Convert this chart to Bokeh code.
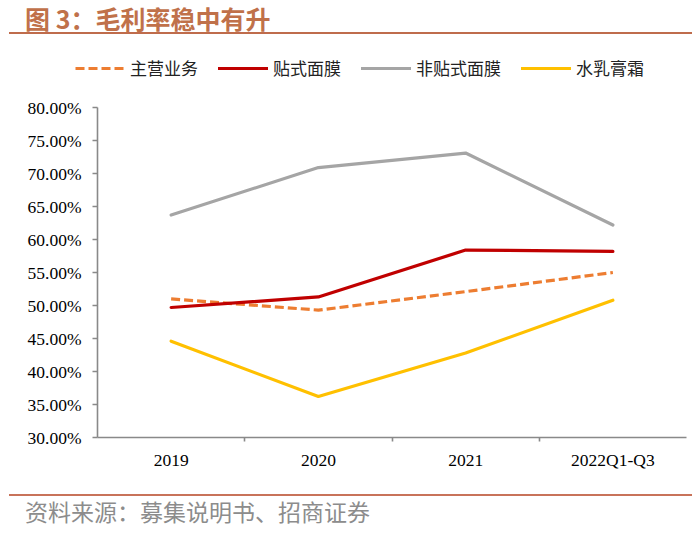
from bokeh.plotting import figure
from bokeh.models import (Range1d, FixedTicker, PrintfTickFormatter, Legend,
                          LegendItem, ColumnDataSource, Div)
from bokeh.layouts import column
from bokeh.embed import file_html
from bokeh.resources import INLINE

categories = ["2019", "2020", "2021", "2022Q1-Q3"]
main_business = [51.0, 49.3, 52.1, 55.0]
sheet_mask = [49.7, 51.3, 58.4, 58.2]
non_sheet_mask = [63.7, 70.9, 73.1, 62.2]
lotion_cream = [44.6, 36.2, 42.8, 50.8]
series_names = ["主营业务", "贴式面膜", "非贴式面膜", "水乳膏霜"]
y_ticks = [30, 35, 40, 45, 50, 55, 60, 65, 70, 75, 80]
title_text = "图 3：毛利率稳中有升"
source_text = "资料来源：募集说明书、招商证券"

W = 692
title_div = Div(width=W, height=36, margin=(0, 0, 0, 0), text=(
    '<div style="position:relative;width:683px;height:34px;margin-left:9px;'
    'border-bottom:2px solid #BF6C4C;">'
    '<span style="position:absolute;left:16px;top:3px;font-family:\'Noto Sans CJK SC\';'
    'font-size:25px;line-height:30px;color:#C0714A;font-weight:bold;white-space:nowrap">'
    + title_text + '</span></div>'))

# plot geometry (pixels): axes box from x=97 to 686, 80% at 71px below figure top, 30% at 401px
FIG_H = 456
AX_LEFT, AX_RIGHT = 97, 686
AX_TOP, AX_BOTTOM = 71, 401
n = len(categories)
px_per_cat = (AX_RIGHT - AX_LEFT) / n
px_per_pct = (AX_BOTTOM - AX_TOP) / (y_ticks[-1] - y_ticks[0])

x_range = Range1d(-AX_LEFT / px_per_cat, n + (W - AX_RIGHT) / px_per_cat)
y_range = Range1d(y_ticks[0] - (FIG_H - AX_BOTTOM) / px_per_pct,
                  y_ticks[0] + AX_BOTTOM / px_per_pct)

p = figure(width=W, height=FIG_H, output_backend="svg", toolbar_location=None,
           x_range=x_range, y_range=y_range,
           min_border_left=0, min_border_right=0, min_border_top=0,
           min_border_bottom=0, margin=(0, 0, 0, 0))
p.outline_line_color = None
p.grid.visible = False
p.background_fill_color = "white"
p.border_fill_color = "white"

xs = [i + 0.5 for i in range(n)]
src = ColumnDataSource(dict(x=xs, a=main_business, b=sheet_mask, c=non_sheet_mask, d=lotion_cream))

r_a = p.line("x", "a", source=src, line_color="#ED7D31", line_width=3.2, line_dash="9 4")
r_b = p.line("x", "b", source=src, line_color="#C00000", line_width=3.2, line_cap="round")
r_c = p.line("x", "c", source=src, line_color="#A5A5A5", line_width=3.2, line_cap="round")
r_d = p.line("x", "d", source=src, line_color="#FFC000", line_width=3.2, line_cap="round")

axis_color = "#898989"
xa = p.xaxis[0]
xa.fixed_location = y_ticks[0]
xa.bounds = (0, n)
xa.ticker = FixedTicker(ticks=xs, minor_ticks=list(range(1, n)))
xa.major_label_overrides = {x: c for x, c in zip(xs, categories)}
xa.axis_line_color = axis_color
xa.axis_line_width = 1.6
xa.major_tick_line_color = None
xa.major_tick_out = 0
xa.major_tick_in = 0
xa.minor_tick_line_color = axis_color
xa.minor_tick_line_width = 1.6
xa.minor_tick_out = 4
xa.minor_tick_in = 0
xa.major_label_standoff = 8
xa.major_label_text_font = "Liberation Serif"
xa.major_label_text_font_size = "17.5px"
xa.major_label_text_color = "black"

ya = p.yaxis[0]
ya.fixed_location = 0
ya.bounds = (y_ticks[0], y_ticks[-1])
ya.ticker = FixedTicker(ticks=y_ticks)
ya.formatter = PrintfTickFormatter(format="%.2f%%")
ya.axis_line_color = axis_color
ya.axis_line_width = 1.6
ya.major_tick_line_color = axis_color
ya.major_tick_line_width = 1.6
ya.major_tick_out = 5
ya.major_tick_in = 0
ya.minor_tick_line_color = None
ya.major_label_standoff = 11
ya.major_label_text_font = "Liberation Serif"
ya.major_label_text_font_size = "17.5px"
ya.major_label_text_color = "black"

# legend row centred 34px below figure top, first sample starting at x=75
legend = Legend(items=[LegendItem(label=s, renderers=[r]) for s, r in
                       zip(series_names, [r_a, r_b, r_c, r_d])],
                orientation="horizontal", location=(75, FIG_H - 34 - 10),
                glyph_width=50, glyph_height=20, label_standoff=5, spacing=20,
                padding=0, margin=0, border_line_color=None, background_fill_alpha=0,
                label_text_font="Noto Sans CJK SC", label_text_font_size="17px",
                label_text_color="#222222")
p.add_layout(legend, "center")

footer_div = Div(width=W, height=30, margin=(0, 0, 0, 0), text=(
    '<div style="width:683px;height:26px;margin-left:9px;margin-top:2px;'
    'border-top:2px solid #C8735A;padding-top:4px;">'
    '<div style="padding-left:16px;font-family:\'Noto Sans CJK SC\';font-size:23px;'
    'line-height:22px;color:#8C8C8C;white-space:nowrap">' + source_text + '</div></div>'))

layout = column(title_div, p, footer_div, spacing=0, margin=(0, 0, 0, 0))
open("out.html", "w").write(file_html(layout, INLINE))
